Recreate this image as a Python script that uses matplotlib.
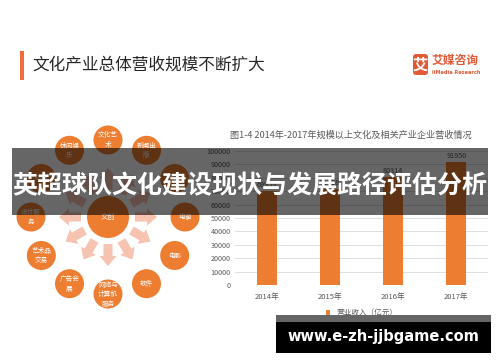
import numpy as np
import matplotlib
matplotlib.use("Agg")
import matplotlib.pyplot as plt
from matplotlib.patches import Circle, Rectangle, FancyArrow, FancyBboxPatch

plt.rcParams['font.family'] = ['Noto Sans CJK SC', 'DejaVu Sans']

# bar chart data (亿元)
years = ["2014年", "2015年", "2016年", "2017年"]
revenue = [69959, 71398, 80314, 91950]
yticks = [0, 10000, 20000, 30000, 40000, 50000, 60000, 70000, 80000, 90000, 100000]

# industry wheel labels, clockwise from top
wheel_labels = ["文化艺\n术", "新闻出\n版", "广播", "电视", "电影", "软件",
                "网络与\n计算机\n服务", "广告会\n展", "艺术品\n交易", "设计服\n务", "动漫", "休闲娱\n乐"]
center_label = "文创"

ORANGE = "#ED7D31"
SALMON = "#F5C3B0"
W, H = 500, 362

fig = plt.figure(figsize=(5.0, 3.62), dpi=100)
fig.patch.set_facecolor("white")

def px(x0, y0, w, h):
    # rectangle given in pixels from the top-left corner -> figure fraction
    return (x0 / W, 1 - (y0 + h) / H), w / W, h / H

# background axes in pixel coordinates
bg = fig.add_axes([0, 0, 1, 1], label="bg")
bg.set_xlim(0, W); bg.set_ylim(H, 0); bg.axis("off")

# page title
bg.add_patch(Rectangle((20, 51), 3.5, 29, color="#F26B3A", lw=0))
bg.text(32, 65, "文化产业总体营收规模不断扩大", fontsize=12, color="#262626", va="center")

# logo
bg.add_patch(FancyBboxPatch((413, 54), 15, 21, boxstyle="round,pad=0,rounding_size=3",
                            color="#E05A35", lw=0))
bg.text(420.5, 65, "艾", fontsize=11, color="white", weight="bold", ha="center", va="center")
bg.text(432, 60, "艾媒咨询", fontsize=8.5, color="#E05A35", weight="bold", va="center")
bg.text(432, 72, "iiMedia Research", fontsize=3.6, color="#E05A35", weight="bold",
        va="center", family="DejaVu Sans")

# wheel diagram
cx, cy = 108, 217
R = 77
for i, lab in enumerate(wheel_labels):
    ang = np.deg2rad(90 - 30 * i)
    dx, dy = np.cos(ang), -np.sin(ang)
    bg.add_patch(FancyArrow(cx + 27 * dx, cy + 27 * dy, 22 * dx, 22 * dy, width=9,
                            head_width=17, head_length=10, length_includes_head=True,
                            color=SALMON, lw=0))
    x, y = cx + R * dx, cy + R * dy
    bg.add_patch(Circle((x, y), 14.5, color=ORANGE, lw=0))
    bg.text(x, y, lab, fontsize=4.8, color="white", ha="center", va="center", linespacing=1.25)
bg.add_patch(Circle((cx, cy), 21, color=ORANGE, lw=0))
bg.text(cx, cy, center_label, fontsize=5.2, color="white", ha="center", va="center")

# chart title
bg.text(351, 135, "图1-4 2014年-2017年规模以上文化及相关产业企业营收情况", fontsize=6.6,
        color="#595959", ha="center", va="center")

# bar chart
ax = fig.add_axes([235 / W, 1 - 285 / H, 253 / W, 134 / H], label="bars")
x = np.arange(len(years))
ax.bar(x, revenue, width=0.32, color=ORANGE, zorder=3, label="营业收入（亿元）")
for xi, v in zip(x, revenue):
    ax.text(xi, v + 1500, str(v), fontsize=5.2, color="#595959", ha="center", va="bottom")
ax.set_xlim(-0.5, 3.5); ax.set_ylim(0, 100000)
ax.set_yticks(yticks)
ax.set_yticklabels([str(t) for t in yticks], fontsize=5.2, color="#595959")
ax.set_xticks(x)
ax.set_xticklabels(years, fontsize=5.5, color="#595959")
ax.tick_params(length=0, pad=3)
ax.tick_params(axis="x", pad=6)
ax.grid(axis="y", color="#D9D9D9", lw=0.6, zorder=0)
for s in ax.spines.values():
    s.set_visible(False)
ax.legend(loc="upper center", bbox_to_anchor=(0.5, -0.13), frameon=False, fontsize=5.5,
          handlelength=0.6, handleheight=0.6, labelcolor="#595959")

# overlays drawn as figure-level artists on top of everything
fig.add_artist(Rectangle(*px(12, 148, 476, 67), transform=fig.transFigure,
                         facecolor="black", alpha=0.6, lw=0, zorder=50))
fig.text(0.5, 1 - 186 / H, "英超球队文化建设现状与发展路径评估分析", fontsize=18, color="white",
         weight="bold", ha="center", va="center", zorder=51)
fig.add_artist(Rectangle(*px(276, 315, 215, 7), transform=fig.transFigure,
                         facecolor="#666666", lw=0, zorder=50))
fig.add_artist(Rectangle(*px(276, 322, 215, 31), transform=fig.transFigure,
                         facecolor="black", lw=0, zorder=50))
fig.text(383.5 / W, 1 - 337 / H, "www.e-zh-jjbgame.com", fontsize=10.5, color="white",
         weight="bold", ha="center", va="center", family="DejaVu Sans", zorder=51)

fig.savefig("out.png", dpi=100)
